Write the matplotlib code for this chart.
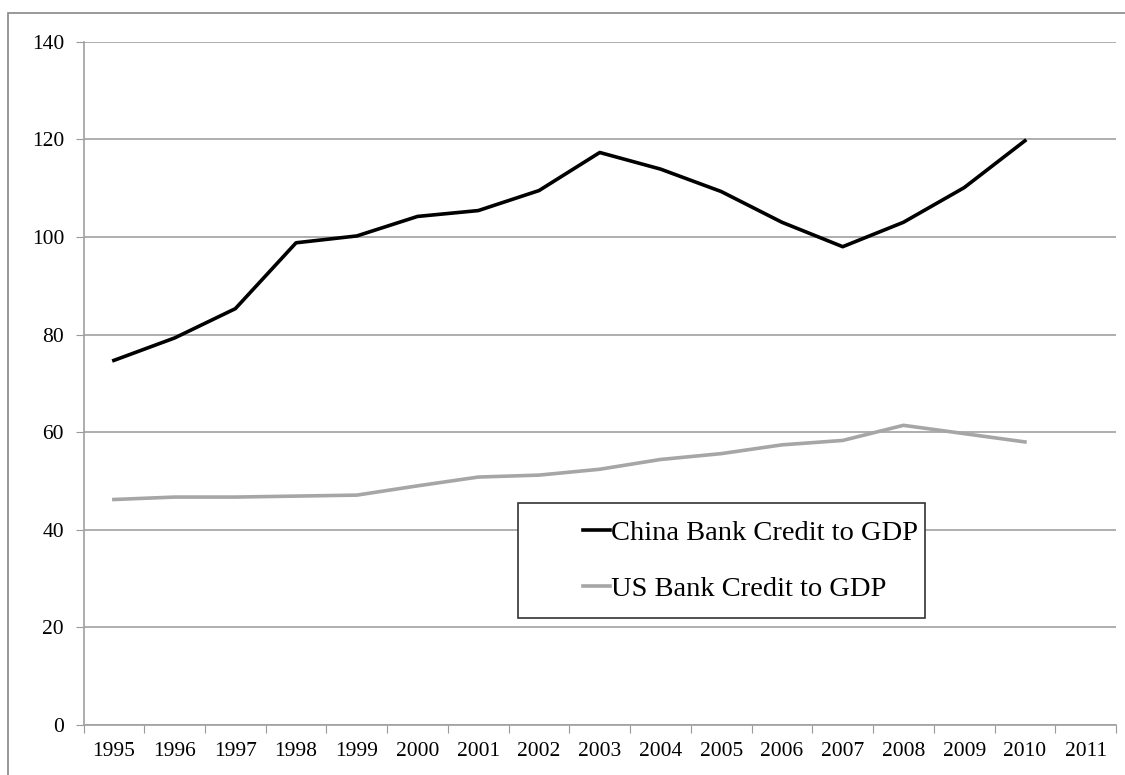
import matplotlib
matplotlib.use("Agg")
import matplotlib.pyplot as plt
from matplotlib.patches import Rectangle
import numpy as np

years = [str(y) for y in range(1995, 2012)]
china_years = years[:16]
china_credit = [74.7, 79.3, 85.3, 98.8, 100.2, 104.2, 105.4, 109.5,
                117.3, 113.9, 109.3, 103.0, 98.0, 103.0, 110.1, 119.7]
us_credit = [46.2, 46.7, 46.7, 46.9, 47.1, 49.0, 50.8, 51.2,
             52.4, 54.4, 55.6, 57.4, 58.3, 61.4, 59.7, 58.0]

W, H = 1125, 775
plt.rcParams["font.family"] = ["Liberation Serif", "DejaVu Serif"]

fig = plt.figure(figsize=(W / 100, H / 100), dpi=100)
# outer chart border (only left/top visible in the reference)
fig.patches.append(Rectangle((8 / W, -0.2), 1.5, (H - 13) / H + 0.2, transform=fig.transFigure,
                             fill=False, edgecolor="#888888", linewidth=1.2))

ax = fig.add_axes([83.5 / W, (H - 725) / H, (1116 - 83.5) / W, (725 - 41.7) / H])

x = np.arange(len(china_years)) + 0.5
ax.plot(x, china_credit, color="black", linewidth=2.6, solid_joinstyle="round",
        label="China Bank Credit to GDP")
ax.plot(x, us_credit, color="#a6a6a6", linewidth=2.6, solid_joinstyle="round",
        label="US Bank Credit to GDP")

ax.set_xlim(0, len(years))
ax.set_ylim(0, 140)
ax.set_yticks(range(0, 141, 20))
ax.set_xticks(range(0, len(years) + 1))
ax.set_xticklabels([])
ax.set_xticks(np.arange(len(years)) + 0.5, minor=True)
ax.set_xticklabels(years, minor=True, fontsize=15.5)
ax.tick_params(axis="x", which="major", length=6, color="#999999", direction="out")
ax.tick_params(axis="x", which="minor", length=0, pad=12)
ax.tick_params(axis="y", length=6, color="#999999", labelsize=15.5, pad=8)

ax.grid(axis="y", color="#999999", linewidth=1.1)
ax.set_axisbelow(True)
for side in ["top", "right"]:
    ax.spines[side].set_visible(False)
for side in ["left", "bottom"]:
    ax.spines[side].set_color("#a0a0a0")
    ax.spines[side].set_linewidth(1.2)

# legend box
fig.patches.append(Rectangle((517.7 / W, (H - 618.3) / H), (925 - 517.7) / W, (618.3 - 503.3) / H,
                             transform=fig.transFigure, facecolor="white",
                             edgecolor="#333333", linewidth=1.2, zorder=5))
leg = fig.legend(loc="center left", bbox_to_anchor=(583 / W, (H - 561) / H),
                 frameon=False, fontsize=20.5, handlelength=0.95, handletextpad=0.05,
                 labelspacing=1.05, borderpad=0, borderaxespad=0)
leg.set_zorder(6)

fig.savefig("out.png", dpi=100)
